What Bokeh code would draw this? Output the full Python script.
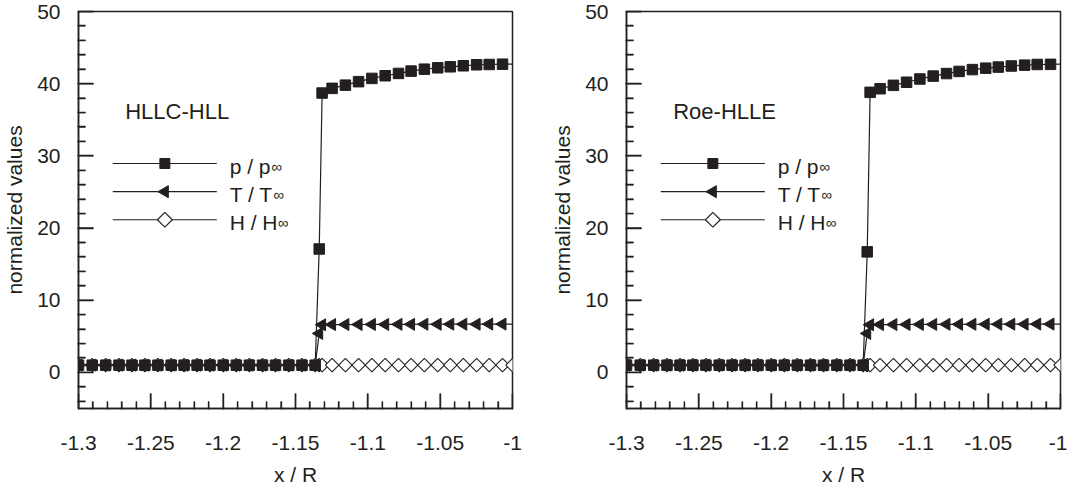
import numpy as np
from bokeh.plotting import figure
from bokeh.layouts import row
from bokeh.models import FixedTicker, CustomJSTickFormatter, Range1d
from bokeh.core.properties import value
from bokeh.embed import file_html
from bokeh.resources import INLINE

# ---------------- data ----------------
x_pos = [-1.3000, -1.2905, -1.2812, -1.2720, -1.2630, -1.2541, -1.2451, -1.2359,
         -1.2270, -1.2180, -1.2091, -1.1999, -1.1909, -1.1819, -1.1728, -1.1638,
         -1.1546, -1.1455, -1.1364,
         -1.1336, -1.1316, -1.1247, -1.1155, -1.1064, -1.0972, -1.0880, -1.0788,
         -1.0701, -1.0609, -1.0517, -1.0430, -1.0340, -1.0248, -1.0161, -1.0069,
         -1.0000]

p_left = [1.0] * 19 + [17.1, 38.7, 39.35, 39.8, 40.28, 40.73, 41.1, 41.42,
                       41.74, 42.01, 42.2, 42.34, 42.48, 42.62, 42.66, 42.7, 42.72]
T_left = [1.0] * 19 + [5.4, 6.6, 6.62, 6.63, 6.64, 6.65, 6.65, 6.66,
                       6.66, 6.67, 6.67, 6.68, 6.68, 6.68, 6.69, 6.69, 6.69]
H_left = [1.0] * 36

p_right = [1.0] * 19 + [16.7, 38.8, 39.3, 39.77, 40.2, 40.65, 41.05, 41.4,
                        41.7, 41.95, 42.15, 42.3, 42.45, 42.57, 42.66, 42.68, 42.7]
T_right = [1.0] * 19 + [5.4, 6.6, 6.62, 6.63, 6.64, 6.65, 6.65, 6.66,
                        6.66, 6.67, 6.67, 6.68, 6.68, 6.68, 6.69, 6.69, 6.69]
H_right = [1.0] * 36

x_ticks = [-1.3, -1.25, -1.2, -1.15, -1.1, -1.05, -1.0]
y_ticks = [0, 10, 20, 30, 40, 50]
legend_labels = ["p / p", "T / T", "H / H"]
legend_sub = "\u221e"
titles = ["HLLC-HLL", "Roe-HLLE"]
x_label = "x / R"
y_label = "normalized values"

# ---------------- styling / layout constants ----------------
INK = "#231f20"
FONT = "Liberation Sans"
X_RANGE = (-1.3, -1.0)
Y_RANGE = (-5, 50)
FRAME_W, FRAME_H = 434, 397
x_minor = [round(-1.3 + 0.01 * i, 2) for i in range(1, 30) if i % 5 != 0]
y_minor = [v for v in range(-4, 50, 2) if v % 10 != 0]

PX_X = (X_RANGE[1] - X_RANGE[0]) / FRAME_W
PX_Y = (Y_RANGE[1] - Y_RANGE[0]) / FRAME_H
MAJ_LEN, MIN_LEN = 15, 7

# legend placement in data units
LEG_ROWS = [28.94, 25.04, 21.15]
LEG_X0, LEG_X1, LEG_XM = -1.2763, -1.2044, -1.2403
LEG_TX = -1.1955
LEG_SUB_DX = [0.0288, 0.0302, 0.0333]
TITLE_X, TITLE_Y = -1.2677, 36.15


def make_panel(p_vals, T_vals, H_vals, title, border_right):
    f = figure(output_backend="svg", toolbar_location=None,
               frame_width=FRAME_W, frame_height=FRAME_H,
               min_border_left=76, min_border_right=border_right,
               min_border_top=11, min_border_bottom=66,
               x_range=Range1d(*X_RANGE), y_range=Range1d(*Y_RANGE))
    f.xgrid.visible = False
    f.ygrid.visible = False
    f.outline_line_color = INK
    f.outline_line_width = 1.5
    f.outline_line_alpha = 1.0

    f.xaxis.ticker = FixedTicker(ticks=x_ticks, minor_ticks=x_minor)
    f.yaxis.ticker = FixedTicker(ticks=y_ticks, minor_ticks=y_minor)
    f.xaxis.formatter = CustomJSTickFormatter(code="return String(Math.round(tick*100)/100);")
    for ax in (f.xaxis, f.yaxis):
        ax.axis_line_color = INK
        ax.axis_line_width = 1.5
        ax.major_tick_in = MAJ_LEN
        ax.major_tick_out = 1
        ax.minor_tick_in = MIN_LEN
        ax.minor_tick_out = 1
        ax.major_tick_line_color = INK
        ax.minor_tick_line_color = INK
        ax.major_tick_line_width = 1.4
        ax.minor_tick_line_width = 1.3
        ax.major_label_text_font = FONT
        ax.major_label_text_font_size = "21px"
        ax.major_label_text_color = INK
        ax.axis_label_text_font = FONT
        ax.axis_label_text_font_size = "21px"
        ax.axis_label_text_font_style = "normal"
        ax.axis_label_text_color = INK
    f.xaxis.major_label_standoff = 26
    f.yaxis.major_label_standoff = 17
    f.xaxis.axis_label_standoff = 10
    f.yaxis.axis_label_standoff = 8
    f.xaxis.axis_label = x_label
    f.yaxis.axis_label = y_label

    # lines
    for vals in (H_vals, T_vals, p_vals):
        f.line(x_pos, vals, line_color=INK, line_width=1.2)
    # markers: H on all points, p and T on all but wall point
    f.scatter(x_pos, H_vals, marker="square", angle=np.pi / 4, size=9.5,
              fill_color="white", line_color=INK, line_width=1.1)
    f.scatter(x_pos[:-1], T_vals[:-1], marker="triangle", angle=np.pi / 2, size=12,
              fill_color=INK, line_color=INK, line_width=1)
    f.scatter(x_pos[:-1], p_vals[:-1], marker="square", size=10.5,
              fill_color=INK, line_color=INK, line_width=1)

    # legend drawn by hand
    f.segment(x0=[LEG_X0] * 3, y0=LEG_ROWS, x1=[LEG_X1] * 3, y1=LEG_ROWS,
              line_color=INK, line_width=1.2)
    f.scatter([LEG_XM], [LEG_ROWS[0]], marker="square", size=10,
              fill_color=INK, line_color=INK)
    f.scatter([LEG_XM], [LEG_ROWS[1]], marker="triangle", angle=np.pi / 2, size=12,
              fill_color=INK, line_color=INK)
    f.scatter([LEG_XM], [LEG_ROWS[2]], marker="square", angle=np.pi / 4, size=10.5,
              fill_color="white", line_color=INK, line_width=1.1)
    base_y = [r - 0.41 for r in LEG_ROWS]
    f.text(x=[LEG_TX] * 3, y=base_y, text=legend_labels,
           text_font=value(FONT), text_font_size="21px", text_color=INK,
           text_baseline="alphabetic", text_align="left")
    f.text(x=[LEG_TX + d for d in LEG_SUB_DX], y=base_y, text=[legend_sub] * 3,
           text_font=value(FONT), text_font_size="15px", text_color=INK,
           text_baseline="alphabetic", text_align="left")
    f.text(x=[TITLE_X], y=[TITLE_Y], text=[title],
           text_font=value(FONT), text_font_size="22px", text_color=INK,
           text_baseline="alphabetic", text_align="left")

    # inward tick marks drawn on top as well (left and bottom only)
    y0 = Y_RANGE[0]
    x0 = X_RANGE[0]
    f.segment(x0=x_ticks, y0=[y0] * len(x_ticks), x1=x_ticks,
              y1=[y0 + MAJ_LEN * PX_Y] * len(x_ticks), line_color=INK, line_width=1.4)
    f.segment(x0=x_minor, y0=[y0] * len(x_minor), x1=x_minor,
              y1=[y0 + MIN_LEN * PX_Y] * len(x_minor), line_color=INK, line_width=1.3)
    f.segment(x0=[x0] * len(y_ticks), y0=y_ticks, x1=[x0 + MAJ_LEN * PX_X] * len(y_ticks),
              y1=y_ticks, line_color=INK, line_width=1.4)
    f.segment(x0=[x0] * len(y_minor), y0=y_minor, x1=[x0 + MIN_LEN * PX_X] * len(y_minor),
              y1=y_minor, line_color=INK, line_width=1.3)
    return f


left = make_panel(p_left, T_left, H_left, titles[0], 36)
right = make_panel(p_right, T_right, H_right, titles[1], 7)
layout = row(left, right, spacing=0)

open("out.html", "w").write(file_html(layout, INLINE))
